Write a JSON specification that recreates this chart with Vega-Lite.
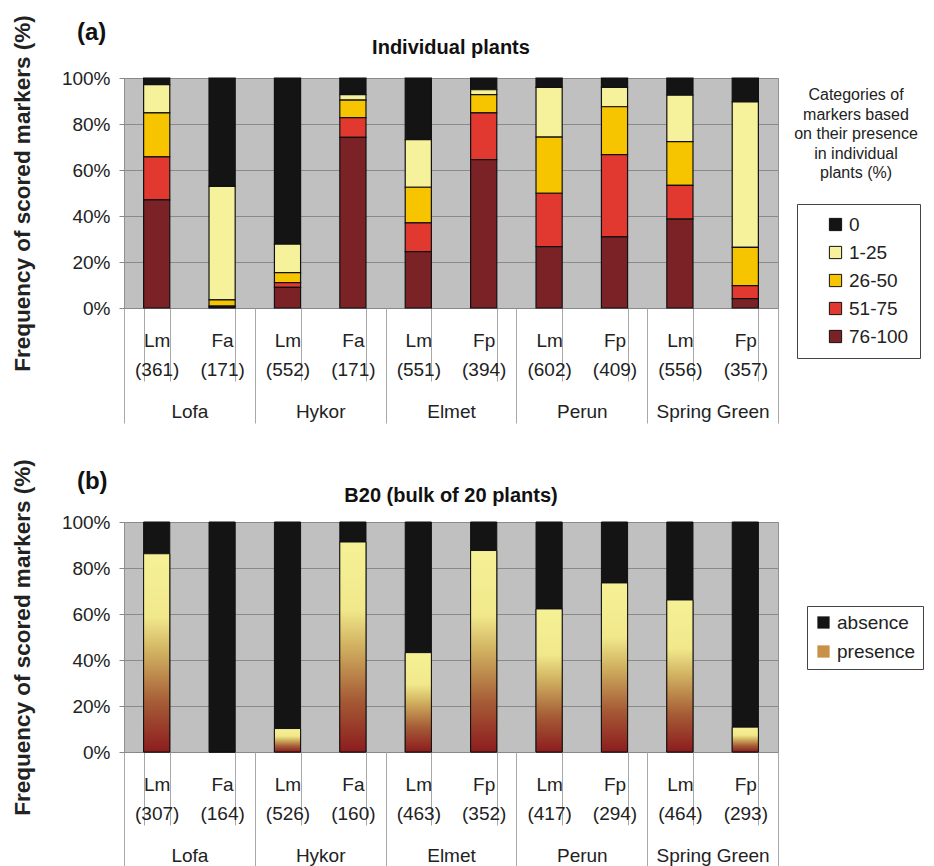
{
  "$schema": "https://vega.github.io/schema/vega-lite/v6.json",
  "background": "white",
  "padding": {"left": 10, "top": 14, "right": 5, "bottom": 0},
  "config": {
    "font": "Liberation Sans",
    "view": {"fill": "#c0c0c1", "stroke": "#909090"},
    "axis": {"labelFont": "Liberation Sans", "titleFont": "Liberation Sans", "labelColor": "#222", "titleColor": "#222"},
    "legend": {"labelFont": "Liberation Sans", "titleFont": "Liberation Sans", "labelColor": "#222", "titleColor": "#222"},
    "title": {"font": "Liberation Sans", "color": "#111"}
  },
  "spacing": 34,
  "resolve": {"scale": {"color": "independent", "shape": "independent"}, "legend": {"color": "independent", "shape": "independent"}},
  "vconcat": [
    {
      "title": {"text": "(a)", "anchor": "start", "fontSize": 24, "fontWeight": "bold", "dx": 66, "offset": -31},
      "vconcat": [
        {
          "title": {"text": "Individual plants", "fontSize": 20, "fontWeight": "bold", "anchor": "middle", "offset": -43},
          "width": 654,
          "height": 230,
          "data": {"values": [
            {"group": "Lofa", "bar": "Lofa|Lm|(361)", "cat": "0", "pct": 2.9},
            {"group": "Lofa", "bar": "Lofa|Lm|(361)", "cat": "1-25", "pct": 12.3},
            {"group": "Lofa", "bar": "Lofa|Lm|(361)", "cat": "26-50", "pct": 19.1},
            {"group": "Lofa", "bar": "Lofa|Lm|(361)", "cat": "51-75", "pct": 18.7},
            {"group": "Lofa", "bar": "Lofa|Lm|(361)", "cat": "76-100", "pct": 47.0},
            {"group": "Lofa", "bar": "Lofa|Fa|(171)", "cat": "0", "pct": 47.1},
            {"group": "Lofa", "bar": "Lofa|Fa|(171)", "cat": "1-25", "pct": 49.4},
            {"group": "Lofa", "bar": "Lofa|Fa|(171)", "cat": "26-50", "pct": 2.7},
            {"group": "Lofa", "bar": "Lofa|Fa|(171)", "cat": "51-75", "pct": 0.3},
            {"group": "Lofa", "bar": "Lofa|Fa|(171)", "cat": "76-100", "pct": 0.5},
            {"group": "Hykor", "bar": "Hykor|Lm|(552)", "cat": "0", "pct": 72.2},
            {"group": "Hykor", "bar": "Hykor|Lm|(552)", "cat": "1-25", "pct": 12.4},
            {"group": "Hykor", "bar": "Hykor|Lm|(552)", "cat": "26-50", "pct": 4.4},
            {"group": "Hykor", "bar": "Hykor|Lm|(552)", "cat": "51-75", "pct": 2.0},
            {"group": "Hykor", "bar": "Hykor|Lm|(552)", "cat": "76-100", "pct": 9.0},
            {"group": "Hykor", "bar": "Hykor|Fa|(171)", "cat": "0", "pct": 7.2},
            {"group": "Hykor", "bar": "Hykor|Fa|(171)", "cat": "1-25", "pct": 2.4},
            {"group": "Hykor", "bar": "Hykor|Fa|(171)", "cat": "26-50", "pct": 7.6},
            {"group": "Hykor", "bar": "Hykor|Fa|(171)", "cat": "51-75", "pct": 8.6},
            {"group": "Hykor", "bar": "Hykor|Fa|(171)", "cat": "76-100", "pct": 74.2},
            {"group": "Elmet", "bar": "Elmet|Lm|(551)", "cat": "0", "pct": 26.8},
            {"group": "Elmet", "bar": "Elmet|Lm|(551)", "cat": "1-25", "pct": 20.7},
            {"group": "Elmet", "bar": "Elmet|Lm|(551)", "cat": "26-50", "pct": 15.5},
            {"group": "Elmet", "bar": "Elmet|Lm|(551)", "cat": "51-75", "pct": 12.5},
            {"group": "Elmet", "bar": "Elmet|Lm|(551)", "cat": "76-100", "pct": 24.5},
            {"group": "Elmet", "bar": "Elmet|Fp|(394)", "cat": "0", "pct": 5.1},
            {"group": "Elmet", "bar": "Elmet|Fp|(394)", "cat": "1-25", "pct": 2.1},
            {"group": "Elmet", "bar": "Elmet|Fp|(394)", "cat": "26-50", "pct": 8.0},
            {"group": "Elmet", "bar": "Elmet|Fp|(394)", "cat": "51-75", "pct": 20.3},
            {"group": "Elmet", "bar": "Elmet|Fp|(394)", "cat": "76-100", "pct": 64.5},
            {"group": "Perun", "bar": "Perun|Lm|(602)", "cat": "0", "pct": 4.1},
            {"group": "Perun", "bar": "Perun|Lm|(602)", "cat": "1-25", "pct": 21.6},
            {"group": "Perun", "bar": "Perun|Lm|(602)", "cat": "26-50", "pct": 24.4},
            {"group": "Perun", "bar": "Perun|Lm|(602)", "cat": "51-75", "pct": 23.2},
            {"group": "Perun", "bar": "Perun|Lm|(602)", "cat": "76-100", "pct": 26.7},
            {"group": "Perun", "bar": "Perun|Fp|(409)", "cat": "0", "pct": 4.1},
            {"group": "Perun", "bar": "Perun|Fp|(409)", "cat": "1-25", "pct": 8.4},
            {"group": "Perun", "bar": "Perun|Fp|(409)", "cat": "26-50", "pct": 20.8},
            {"group": "Perun", "bar": "Perun|Fp|(409)", "cat": "51-75", "pct": 35.8},
            {"group": "Perun", "bar": "Perun|Fp|(409)", "cat": "76-100", "pct": 30.9},
            {"group": "Spring Green", "bar": "Spring Green|Lm|(556)", "cat": "0", "pct": 7.5},
            {"group": "Spring Green", "bar": "Spring Green|Lm|(556)", "cat": "1-25", "pct": 20.2},
            {"group": "Spring Green", "bar": "Spring Green|Lm|(556)", "cat": "26-50", "pct": 19.0},
            {"group": "Spring Green", "bar": "Spring Green|Lm|(556)", "cat": "51-75", "pct": 14.7},
            {"group": "Spring Green", "bar": "Spring Green|Lm|(556)", "cat": "76-100", "pct": 38.6},
            {"group": "Spring Green", "bar": "Spring Green|Fp|(357)", "cat": "0", "pct": 10.4},
            {"group": "Spring Green", "bar": "Spring Green|Fp|(357)", "cat": "1-25", "pct": 63.2},
            {"group": "Spring Green", "bar": "Spring Green|Fp|(357)", "cat": "26-50", "pct": 16.7},
            {"group": "Spring Green", "bar": "Spring Green|Fp|(357)", "cat": "51-75", "pct": 5.6},
            {"group": "Spring Green", "bar": "Spring Green|Fp|(357)", "cat": "76-100", "pct": 4.1}
          ]},
          "layer": [
            {
              "transform": [{"calculate": "indexof(['76-100','51-75','26-50','1-25','0'], datum.cat)", "as": "ord"}],
              "mark": {"type": "bar", "stroke": "#111", "strokeWidth": 1.2},
              "encoding": {
                "x": {"field": "bar", "type": "nominal", "sort": null,
                  "scale": {"paddingInner": 0.6, "paddingOuter": 0.3},
                  "axis": {"title": null, "orient": "bottom", "labelExpr": "[split(datum.value,'|')[1], split(datum.value,'|')[2]]",
                    "labelAngle": 0, "labelFontSize": 19, "labelLineHeight": 29, "labelPadding": -50, "labelBaseline": "top",
                    "tickBand": "extent", "tickSize": 73, "tickColor": "#a8a8a8", "domainColor": "#888", "labelOverlap": false, "labelBound": false, "labelFlush": false}},
                "y": {"field": "pct", "type": "quantitative", "stack": "zero",
                  "scale": {"domain": [0, 100], "nice": false},
                  "axis": {"title": "Frequency of scored markers (%)", "titleFontSize": 22.5, "titleFontWeight": "bold", "titlePadding": 27,
                    "values": [0, 20, 40, 60, 80, 100], "labelExpr": "datum.value + '%'", "labelFontSize": 19,
                    "tickSize": 5, "tickColor": "#888", "labelPadding": 9, "domain": false, "grid": true, "gridColor": "#8a8a8a"}},
                "color": {"field": "cat", "type": "nominal",
                  "scale": {"domain": ["0", "1-25", "26-50", "51-75", "76-100"], "range": ["#141414", "#f6f29c", "#f6c500", "#e1392f", "#7b2227"]},
                  "legend": {"title": null, "orient": "none", "legendX": 673, "legendY": 126, "strokeColor": "#444", "padding": 11,
                    "symbolType": "square", "symbolSize": 150, "symbolStrokeColor": "#111", "symbolStrokeWidth": 1, "symbolOffset": 18,
                    "labelFontSize": 19, "rowPadding": 8, "labelOffset": 4}},
                "order": {"field": "ord", "type": "quantitative", "sort": "ascending"}
              }
            },
            {
              "transform": [{"calculate": "'t'", "as": "lt"}],
              "mark": {"type": "point", "opacity": 0},
              "encoding": {
                "x": {"field": "group", "type": "nominal", "sort": null,
                  "scale": {"type": "band", "paddingInner": 0, "paddingOuter": 0},
                  "axis": {"title": null, "orient": "bottom", "labelAngle": 0, "labelFontSize": 19, "labelPadding": -21, "labelBaseline": "top",
                    "tickBand": "extent", "tickSize": 115, "tickColor": "#a8a8a8", "domain": false, "labelOverlap": false, "labelBound": false, "labelFlush": false}},
                "shape": {"field": "lt", "type": "nominal",
                  "legend": {"title": ["Categories of", "markers based", "on their presence", "in individual", "plants (%)"],
                    "orient": "none", "legendX": 670, "legendY": 9, "titleFontSize": 16, "titleFontWeight": "normal", "titleLineHeight": 19.5,
                    "titleAlign": "center", "titleAnchor": "middle", "symbolOpacity": 0, "symbolSize": 1, "labelFontSize": 1, "labelExpr": "''"}}
              }
            }
          ],
          "resolve": {"scale": {"x": "independent"}, "axis": {"x": "independent"}}
        }
      ]
    },
    {
      "title": {"text": "(b)", "anchor": "start", "fontSize": 24, "fontWeight": "bold", "dx": 66, "offset": -36},
      "vconcat": [
        {
          "title": {"text": "B20 (bulk of 20 plants)", "fontSize": 20, "fontWeight": "bold", "anchor": "middle", "offset": -47},
          "width": 654,
          "height": 230,
          "data": {"values": [
            {"group": "Lofa", "bar": "Lofa|Lm|(307)", "status": "absence", "pct": 13.8},
            {"group": "Lofa", "bar": "Lofa|Lm|(307)", "status": "presence", "pct": 86.2},
            {"group": "Lofa", "bar": "Lofa|Fa|(164)", "status": "absence", "pct": 100},
            {"group": "Lofa", "bar": "Lofa|Fa|(164)", "status": "presence", "pct": 0},
            {"group": "Hykor", "bar": "Hykor|Lm|(526)", "status": "absence", "pct": 89.8},
            {"group": "Hykor", "bar": "Hykor|Lm|(526)", "status": "presence", "pct": 10.2},
            {"group": "Hykor", "bar": "Hykor|Fa|(160)", "status": "absence", "pct": 8.7},
            {"group": "Hykor", "bar": "Hykor|Fa|(160)", "status": "presence", "pct": 91.3},
            {"group": "Elmet", "bar": "Elmet|Lm|(463)", "status": "absence", "pct": 56.8},
            {"group": "Elmet", "bar": "Elmet|Lm|(463)", "status": "presence", "pct": 43.2},
            {"group": "Elmet", "bar": "Elmet|Fp|(352)", "status": "absence", "pct": 12.4},
            {"group": "Elmet", "bar": "Elmet|Fp|(352)", "status": "presence", "pct": 87.6},
            {"group": "Perun", "bar": "Perun|Lm|(417)", "status": "absence", "pct": 37.8},
            {"group": "Perun", "bar": "Perun|Lm|(417)", "status": "presence", "pct": 62.2},
            {"group": "Perun", "bar": "Perun|Fp|(294)", "status": "absence", "pct": 26.5},
            {"group": "Perun", "bar": "Perun|Fp|(294)", "status": "presence", "pct": 73.5},
            {"group": "Spring Green", "bar": "Spring Green|Lm|(464)", "status": "absence", "pct": 33.9},
            {"group": "Spring Green", "bar": "Spring Green|Lm|(464)", "status": "presence", "pct": 66.1},
            {"group": "Spring Green", "bar": "Spring Green|Fp|(293)", "status": "absence", "pct": 89.2},
            {"group": "Spring Green", "bar": "Spring Green|Fp|(293)", "status": "presence", "pct": 10.8}
          ]},
          "layer": [
            {
              "layer": [
                {
                  "transform": [{"calculate": "datum.status === 'presence' ? 0 : 1", "as": "ord"}],
                  "mark": {"type": "bar", "stroke": "#111", "strokeWidth": 1},
                  "encoding": {
                    "x": {"field": "bar", "type": "nominal", "sort": null,
                      "scale": {"paddingInner": 0.6, "paddingOuter": 0.3},
                      "axis": {"title": null, "orient": "bottom", "labelExpr": "[split(datum.value,'|')[1], split(datum.value,'|')[2]]",
                        "labelAngle": 0, "labelFontSize": 19, "labelLineHeight": 29, "labelPadding": -50, "labelBaseline": "top",
                        "tickBand": "extent", "tickSize": 73, "tickColor": "#a8a8a8", "domainColor": "#888", "labelOverlap": false, "labelBound": false, "labelFlush": false}},
                    "y": {"field": "pct", "type": "quantitative", "stack": "zero",
                      "scale": {"domain": [0, 100], "nice": false},
                      "axis": {"title": "Frequency of scored markers (%)", "titleFontSize": 22.5, "titleFontWeight": "bold", "titlePadding": 27,
                        "values": [0, 20, 40, 60, 80, 100], "labelExpr": "datum.value + '%'", "labelFontSize": 19,
                        "tickSize": 5, "tickColor": "#888", "labelPadding": 9, "domain": false, "grid": true, "gridColor": "#8a8a8a"}},
                    "color": {"field": "status", "type": "nominal",
                      "scale": {"domain": ["absence", "presence"], "range": ["#141414", "#c89048"]},
                      "legend": {"title": null, "orient": "none", "legendX": 683, "legendY": 84, "strokeColor": "#444", "padding": 7,
                        "symbolType": "square", "symbolSize": 150, "symbolStrokeColor": "#111", "symbolStrokeWidth": 1,
                        "labelFontSize": 19, "rowPadding": 9, "labelOffset": 4,
                        "encode": {"symbols": {"update": {"fill": {"signal": "datum.value === 'presence' ? {gradient: 'linear', x1: 0, y1: 1, x2: 0, y2: 0, stops: [{offset: 0, color: '#8c1c1e'}, {offset: 0.4, color: '#c8904a'}, {offset: 1, color: '#f6f196'}]} : '#141414'"}}}}}},
                    "order": {"field": "ord", "type": "quantitative", "sort": "ascending"}
                  }
                },
                {
                  "transform": [{"filter": "datum.status === 'presence' && datum.pct > 0"}],
                  "mark": {"type": "bar", "stroke": "#111", "strokeWidth": 1,
                    "fill": {"gradient": "linear", "x1": 0, "y1": 1, "x2": 0, "y2": 0,
                      "stops": [{"offset": 0, "color": "#8c1c1e"}, {"offset": 0.25, "color": "#a65c36"}, {"offset": 0.5, "color": "#d0b060"}, {"offset": 0.68, "color": "#f1e88b"}, {"offset": 1, "color": "#f6f196"}]}},
                  "encoding": {
                    "x": {"field": "bar", "type": "nominal", "sort": null},
                    "y": {"field": "pct", "type": "quantitative", "stack": null}
                  }
                }
              ]
            },
            {
              "mark": {"type": "point", "opacity": 0},
              "encoding": {
                "x": {"field": "group", "type": "nominal", "sort": null,
                  "scale": {"type": "band", "paddingInner": 0, "paddingOuter": 0},
                  "axis": {"title": null, "orient": "bottom", "labelAngle": 0, "labelFontSize": 19, "labelPadding": -21, "labelBaseline": "top",
                    "tickBand": "extent", "tickSize": 115, "tickColor": "#a8a8a8", "domain": false, "labelOverlap": false, "labelBound": false, "labelFlush": false}}
              }
            }
          ],
          "resolve": {"scale": {"x": "independent"}, "axis": {"x": "independent"}}
        }
      ]
    }
  ]
}
